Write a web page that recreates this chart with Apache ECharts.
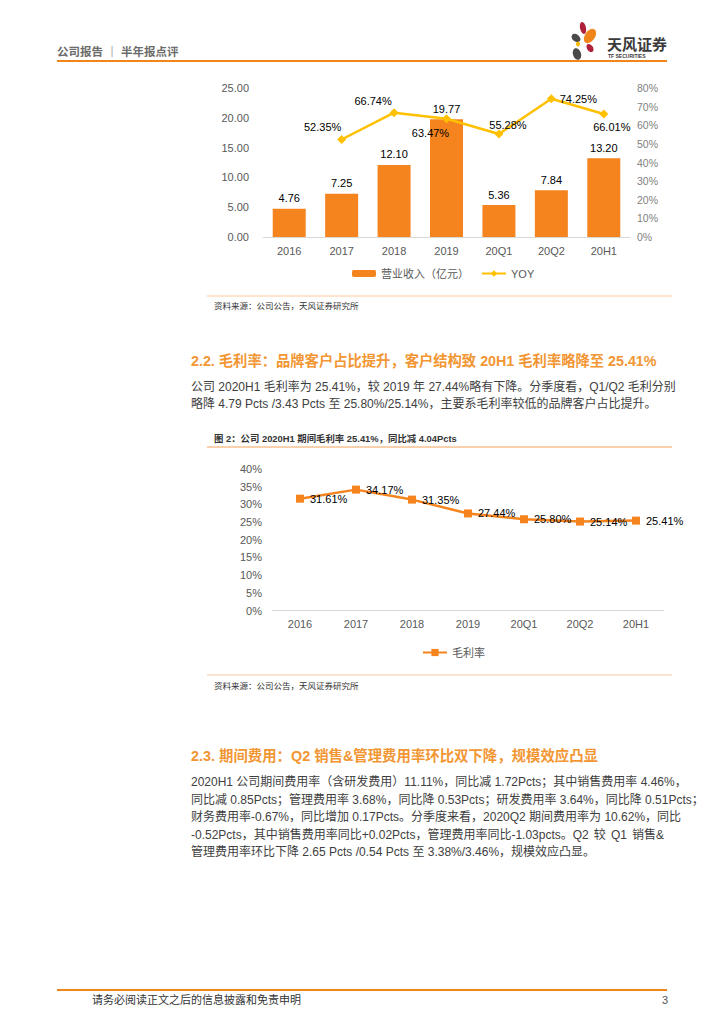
<!DOCTYPE html>
<html><head><meta charset="utf-8">
<script src="https://cdn.jsdelivr.net/npm/echarts@6/dist/echarts.min.js"></script>
<style>html,body{margin:0;padding:0;background:#fff;}#c{width:724px;height:1024px;}</style>
</head><body><div id="c"></div>
<script>
// ---------- data ----------
const categories = ['2016', '2017', '2018', '2019', '20Q1', '20Q2', '20H1'];
const revenue = [4.76, 7.25, 12.10, 19.77, 5.36, 7.84, 13.20];
const yoy = [null, 52.35, 66.74, 63.47, 55.28, 74.25, 66.01];
const grossMargin = [31.61, 34.17, 31.35, 27.44, 25.80, 25.14, 25.41];
const revenueAxis = { min: 0, max: 25, interval: 5 };
const yoyAxis = { min: 0, max: 80, interval: 10 };
const marginAxis = { min: 0, max: 40, interval: 5 };
const seriesNames = { revenue: '营业收入（亿元）', yoy: 'YOY', margin: '毛利率' };

// ---------- texts ----------
const headerText = '公司报告 ｜ 半年报点评';
const sourceText = '资料来源：公司公告，天风证券研究所';
const title22 = '2.2. 毛利率：品牌客户占比提升，客户结构致 20H1 毛利率略降至 25.41%';
const para22 = [
  '公司 2020H1 毛利率为 25.41%，较 2019 年 27.44%略有下降。分季度看，Q1/Q2 毛利分别',
  '略降 4.79 Pcts /3.43 Pcts 至 25.80%/25.14%，主要系毛利率较低的品牌客户占比提升。'
];
const caption2 = '图 2：公司 2020H1 期间毛利率 25.41%，同比减 4.04Pcts';
const title23 = '2.3. 期间费用：Q2 销售&管理费用率环比双下降，规模效应凸显';
const para23 = [
  '2020H1 公司期间费用率（含研发费用）11.11%，同比减 1.72Pcts；其中销售费用率 4.46%，',
  '同比减 0.85Pcts；管理费用率 3.68%，同比降 0.53Pcts；研发费用率 3.64%，同比降 0.51Pcts；',
  '财务费用率-0.67%，同比增加 0.17Pcts。分季度来看，2020Q2 期间费用率为 10.62%，同比',
  '-0.52Pcts，其中销售费用率同比+0.02Pcts，管理费用率同比-1.03pcts。Q2 较 Q1 销售&',
  '管理费用率环比下降 2.65 Pcts /0.54 Pcts 至 3.38%/3.46%，规模效应凸显。'
];
const footerText = '请务必阅读正文之后的信息披露和免责申明';
const pageNo = '3';

// ---------- styles ----------
const FONT = '"Liberation Sans", Arial, "Noto Sans CJK SC", sans-serif';
const ORANGE = '#F5841F';
const YELLOW = '#FFC000';
const AXIS_GRAY = '#595959';
const yoyLabelOffsets = [[0,0],[-19,-12],[-21,-12],[-16,14],[9,-9],[27,0],[8,13]];

const chart = echarts.init(document.getElementById('c'), null, { renderer: 'svg' });

const measureCtx = document.createElement('canvas').getContext('2d');
function measure(s, size, weight) {
  measureCtx.font = (weight || 'normal') + ' ' + size + 'px ' + FONT;
  return measureCtx.measureText(s).width;
}
function txt(x, y, text, size, color, weight, align) {
  return { type: 'text', x: x, y: y, silent: true,
    style: { text: text, fontSize: size, fill: color, fontWeight: weight || 'normal',
      fontFamily: FONT, textAlign: align || 'left', textVerticalAlign: 'middle' } };
}
// justify a line between x0 and x1 by widening its spaces (as the source document does)
function justified(x0, x1, y, line, size, color) {
  const toks = line.split(' ');
  if (toks.length < 2) return [txt(x0, y, line, size, color)];
  const widths = toks.map(t => measure(t, size));
  const sum = widths.reduce((a, b) => a + b, 0);
  const gap = (x1 - x0 - sum) / (toks.length - 1);
  if (gap < 2) return [txt(x0, y, line, size, color)];
  const out = [];
  let x = x0;
  toks.forEach((t, i) => { out.push(txt(x, y, t, size, color)); x += widths[i] + gap; });
  return out;
}
function paragraph(x0, x1, y0, dy, lines, size, color) {
  let out = [];
  lines.forEach((l, i) => {
    const y = y0 + i * dy;
    out = out.concat(i < lines.length - 1 ? justified(x0, x1, y, l, size, color) : [txt(x0, y, l, size, color)]);
  });
  return out;
}
function hline(x1, x2, y, color, w) {
  return { type: 'line', silent: true, shape: { x1: x1, y1: y, x2: x2, y2: y },
    style: { stroke: color, lineWidth: w } };
}
function petal(cx, cy, rx, ry, rot, color) {
  return { type: 'ellipse', silent: true, x: cx, y: cy, rotation: rot,
    shape: { cx: 0, cy: 0, rx: rx, ry: ry }, style: { fill: color } };
}

const graphics = [
  txt(57, 52, headerText, 11.5, '#6b6b6b', 'bold'),
  hline(57, 667, 61, '#F08519', 2),
  // logo
  petal(583, 28, 3, 6, 0.2, '#B0203A'),
  petal(576, 38, 3.5, 5, 0.9, '#4a4a4a'),
  petal(590, 36, 5, 8, -0.6, '#F08519'),
  petal(578, 44, 2, 2.5, 0, '#F5B800'),
  petal(590, 48, 3, 4.5, 0.6, '#B0203A'),
  petal(577, 54, 4, 6, 0.3, '#4a4a4a'),
  txt(607, 44, '天风证券', 15, '#3a3a3a', 'bold'),
  txt(608, 56, 'TF SECURITIES', 5, '#3a3a3a', 'bold'),
  // chart 1 source
  hline(207, 672, 296, '#F9C9A0', 1),
  txt(214, 306, sourceText, 8.5, '#333'),
  // section 2.2
  txt(191, 361, title22, 14.3, '#F29633', 'bold'),
  txt(214, 438, caption2, 9.4, '#333', 'bold'),
  hline(207, 672, 447, '#F5A05A', 1),
  // chart 2 source
  hline(207, 672, 675, '#F9C9A0', 1),
  txt(214, 686, sourceText, 8.5, '#333'),
  // section 2.3
  txt(191, 756, title23, 14.4, '#F29633', 'bold'),
  // footer
  hline(57, 667, 990, '#F08519', 2),
  txt(92, 1000, footerText, 11, '#333'),
  txt(668, 1000, pageNo, 11, '#555', 'normal', 'right')
].concat(
  paragraph(191, 664, 387, 17.3, para22, 12, '#404040'),
  paragraph(191, 664, 782, 17.6, para23, 12, '#404040')
);

const option = {
  animation: false,
  backgroundColor: '#fff',
  textStyle: { fontFamily: FONT },
  grid: [
    { left: 263, width: 367, top: 88, height: 149 },
    { left: 272, width: 392, top: 469, height: 141.5 }
  ],
  legend: [
    { data: [seriesNames.revenue], left: 352, top: 268, padding: 0, itemWidth: 24, itemHeight: 7,
      textStyle: { fontSize: 11, color: AXIS_GRAY }, selectedMode: false },
    { data: [seriesNames.yoy], left: 481, top: 268, padding: 0, itemWidth: 24, itemHeight: 8,
      textStyle: { fontSize: 11, color: AXIS_GRAY }, selectedMode: false },
    { data: [seriesNames.margin], left: 422, top: 647, padding: 0, itemWidth: 24, itemHeight: 9,
      textStyle: { fontSize: 11, color: AXIS_GRAY }, selectedMode: false }
  ],
  xAxis: [
    { type: 'category', gridIndex: 0, data: categories,
      axisLine: { lineStyle: { color: '#D9D9D9' } }, axisTick: { show: false },
      axisLabel: { color: AXIS_GRAY, fontSize: 11, margin: 8 } },
    { type: 'category', gridIndex: 1, data: categories,
      axisLine: { lineStyle: { color: '#D9D9D9' } }, axisTick: { show: false },
      axisLabel: { color: AXIS_GRAY, fontSize: 11, margin: 8 } }
  ],
  yAxis: [
    { type: 'value', gridIndex: 0, min: revenueAxis.min, max: revenueAxis.max, interval: revenueAxis.interval,
      splitLine: { show: false }, axisLine: { show: false }, axisTick: { show: false },
      axisLabel: { color: AXIS_GRAY, fontSize: 11, margin: 14, formatter: v => v.toFixed(2) } },
    { type: 'value', gridIndex: 0, position: 'right', min: yoyAxis.min, max: yoyAxis.max, interval: yoyAxis.interval,
      splitLine: { show: false }, axisLine: { show: false }, axisTick: { show: false },
      axisLabel: { color: '#7f7f7f', fontSize: 10.5, margin: 7, formatter: '{value}%' } },
    { type: 'value', gridIndex: 1, min: marginAxis.min, max: marginAxis.max, interval: marginAxis.interval,
      splitLine: { show: false }, axisLine: { show: false }, axisTick: { show: false },
      axisLabel: { color: AXIS_GRAY, fontSize: 11, margin: 10, formatter: '{value}%' } }
  ],
  series: [
    { name: seriesNames.revenue, type: 'bar', xAxisIndex: 0, yAxisIndex: 0, data: revenue,
      barWidth: 33, itemStyle: { color: ORANGE },
      label: { show: true, position: 'top', distance: 5, color: '#000', fontSize: 11,
        formatter: p => p.value.toFixed(2) } },
    { name: seriesNames.yoy, type: 'line', xAxisIndex: 0, yAxisIndex: 1,
      data: yoy.map((v, i) => ({ value: v,
        label: { position: 'inside', offset: yoyLabelOffsets[i] } })),
      symbol: 'diamond', symbolSize: 9, lineStyle: { color: YELLOW, width: 2.5 },
      itemStyle: { color: YELLOW },
      label: { show: true, color: '#000', fontSize: 11, formatter: p => p.value.toFixed(2) + '%' } },
    { name: seriesNames.margin, type: 'line', xAxisIndex: 1, yAxisIndex: 2, data: grossMargin,
      symbol: 'rect', symbolSize: 8, lineStyle: { color: ORANGE, width: 2.5 },
      itemStyle: { color: ORANGE },
      label: { show: true, position: 'right', distance: 6, color: '#000', fontSize: 11,
        formatter: p => p.value.toFixed(2) + '%' } }
  ],
  graphic: graphics
};
chart.setOption(option);
</script>
</body></html>
